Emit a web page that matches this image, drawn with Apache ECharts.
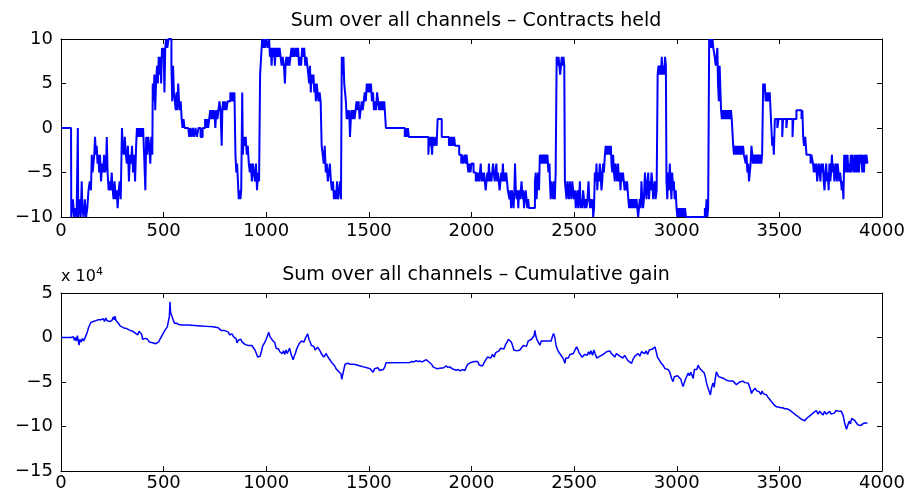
<!DOCTYPE html>
<html lang="en">
<head>
    <meta charset="utf-8">
    <title>Sum over all channels</title>
    <script src="https://cdn.jsdelivr.net/npm/echarts/dist/echarts.min.js"></script>
    <style>
        body { margin: 0; background: #fff; }
    </style>
</head>
<body>
<div id="main" style="width: 914px;height:495px;"></div>

<script>
    // contracts held, [sample, contracts] (value held until next sample)
    let held = [
        [0,0],[49,0],[50,-10],[58,-8],[64,-10],[70,-9],[76,-10],[82,0],[84,-10],[90,-8],[96,-10],[101,-6],[104,-9],[110,-10],[116,-8],[122,-10],[128,-9],[134,-7],[140,-6],[146,-7],
        [150,-3],[154,-5],[158,-4],[162,-3],[166,-1],[170,-3],[174,-2],[178,-4],[182,-3],[186,-5],[190,-3],[195,-6],[200,-4],[205,-5],[210,-3],[215,-5],[220,-4],[223,-1],[227,-5],
        [232,-7],[237,-6],[242,-7],[247,-5],[252,-7],[256,-8],[261,-6],[266,-8],[271,-7],[276,-9],[281,-7],[286,-6],[291,-8],[297,0],[301,-2],[306,-3],[311,-1],[316,-3],[321,-4],
        [326,-2],[331,-6],[336,-3],[341,-4],[346,-2],[351,-5],[356,-3],[361,-6],[366,-2],[370,0],[375,-1],[380,0],[385,-1],[390,0],[395,-1],[400,0],[405,-3],[411,-7],[415,-1],
        [420,-3],[425,-1],[430,-2],[435,-4],[440,-1],[445,-3],
        [447,5],[451,3],[455,6],[459,2],[463,5],[468,7],[472,5],[476,8],[480,6],[484,8],[488,5],[492,9],[496,8],[500,9],[504,4],[508,9],[512,10],[518,9],[524,10],[530,10],
        [538,7],[542,3],[546,7],[550,4],[555,3],[559,2],[563,4],[567,2],[571,5],[575,3],[579,2],[583,3],[588,1],[592,0],[597,1],[602,0],[620,0],[625,-1],[630,0],[636,-1],
        [642,0],[648,-1],[655,0],[662,-1],[670,0],[680,-1],[690,0],[702,1],[707,0],[712,1],[717,0],[722,1],[727,2],[732,1],[737,2],[742,1],[747,2],[752,0],[757,2],[762,1],
        [767,2],[772,3],[777,2],[783,-2],[786,2],[790,3],[795,2],[800,3],[806,2],[812,3],[825,4],[830,3],[835,4],[840,3],[845,4],[850,-3],[854,-5],[858,-4],[862,-6],[866,-8],
        [870,-7],[874,-8],[878,-7],[883,4],[886,-3],[890,-1],[895,-2],[900,-1],[905,-3],[910,-2],[915,-4],[920,-5],[925,-4],[930,-6],[935,-4],[940,-5],[945,-6],[950,-4],
        [955,-7],[960,-5],[965,-6],[970,6],[975,8],[980,10],
        [985,9],[990,10],[995,9],[1000,10],[1008,9],[1014,10],[1018,8],[1022,9],[1026,7],[1030,9],[1034,8],[1038,9],[1042,7],[1046,9],[1050,8],[1055,9],[1060,8],[1065,9],
        [1070,8],[1075,7],[1080,8],[1086,7],[1091,5],[1094,7],[1098,8],[1103,7],[1108,8],[1113,7],[1118,8],[1123,9],[1128,8],[1133,9],[1138,8],[1145,9],[1150,8],[1155,9],
        [1160,7],[1165,8],[1170,7],[1175,9],[1180,8],[1185,9],[1190,7],[1196,8],[1200,7],[1205,6],[1209,5],[1213,7],[1217,4],[1221,6],[1225,5],[1230,6],[1234,4],[1238,5],
        [1242,3],[1246,5],[1250,4],[1255,3],[1260,4],[1265,3],[1270,-2],[1275,-3],[1280,-4],[1285,-2],[1290,-5],[1295,-4],[1300,-6],[1305,-5],[1310,-4],[1315,-6],[1320,-7],
        [1325,-6],[1330,-8],[1335,-7],[1340,-8],[1345,-6],[1350,-8],[1355,-7],[1360,-6],[1364,-8],[1368,8],[1372,6],[1376,8],[1380,5],[1384,4],[1388,3],[1392,1],[1396,2],
        [1400,1],[1404,2],[1408,-1],[1412,1],[1416,2],[1420,1],[1425,2],[1430,1],[1435,2],[1440,3],[1445,2],[1450,3],[1455,1],[1460,2],[1465,3],[1470,2],[1475,3],[1480,4],
        [1485,3],[1490,5],[1495,4],[1500,5],[1505,4],[1510,5],[1515,3],[1520,4],[1525,2],[1530,3],[1535,2],[1540,4],[1545,3],[1550,2],[1555,3],[1560,2],[1565,3],[1570,2],
        [1575,3],[1583,0],[1675,-1],[1680,0],[1685,-1],[1690,0],[1695,-1],[1790,-3],[1794,-1],[1798,-2],[1802,-1],[1808,-3],[1812,-1],[1818,-2],[1824,-1],[1830,-2],
        [1835,1],[1855,-1],[1890,-2],[1895,-1],[1900,-2],[1905,-1],[1910,-2],[1915,-1],[1920,-2],[1940,-3],[1950,-4],[1955,-3],[1960,-4],
        [1968,-3],[1972,-4],[1976,-3],[1980,-4],[1985,-5],[1990,-4],[1995,-5],[2000,-4],[2010,-5],[2017,-5],[2021,-6],[2025,-5],[2029,-6],[2033,-5],[2037,-6],[2041,-5],
        [2045,-4],[2049,-6],[2053,-5],[2057,-6],[2061,-5],[2065,-6],[2069,-7],[2073,-6],[2077,-5],[2081,-6],[2085,-4],[2089,-6],[2093,-5],[2097,-6],[2101,-5],[2105,-4],
        [2109,-5],[2113,-6],[2117,-5],[2121,-4],[2125,-6],[2129,-5],[2133,-6],[2137,-7],[2141,-6],[2145,-5],[2149,-6],[2153,-4],[2157,-6],[2161,-5],[2165,-6],[2169,-5],
        [2173,-6],[2177,-7],[2185,-8],[2189,-7],[2193,-9],[2197,-7],[2201,-8],[2205,-9],[2209,-7],[2212,-4],[2216,-7],[2220,-8],[2224,-7],[2228,-9],[2232,-7],[2236,-8],
        [2240,-7],[2244,-6],[2248,-8],[2252,-7],[2256,-9],[2260,-8],[2264,-7],[2268,-8],[2272,-9],[2276,-8],[2280,-9],[2309,-6],[2313,-5],[2317,-8],[2321,-6],[2325,-5],
        [2329,-7],[2333,-3],[2337,-4],[2341,-3],[2345,-4],[2350,-3],[2355,-4],[2360,-3],[2365,-4],[2370,-3],[2375,-5],[2380,-4],[2382,-6],[2386,-8],[2390,-6],[2394,-7],
        [2398,-8],[2402,-6],[2406,-8],[2410,-5],[2415,8],[2420,7],[2424,8],[2428,7],[2432,6],[2436,7],[2440,8],[2444,7],[2448,8],[2452,7],[2455,-6],[2459,-7],[2463,-8],
        [2467,-6],[2471,-7],[2475,-8],[2479,-6],[2483,-7],[2487,-8],[2491,-6],[2495,-7],[2499,-8],[2504,-7],[2508,-9],[2512,-8],[2516,-7],[2520,-9],[2524,-8],[2528,-6],
        [2532,-9],[2536,-8],[2540,-9],[2544,-7],[2548,-8],[2552,-9],[2556,-8],[2560,-9],[2565,-8],[2570,-6],[2574,-8],[2578,-9],[2582,-8],[2586,-9],[2590,-8],[2593,-10],
        [2597,-9],[2601,-5],[2605,-6],[2609,-4],[2613,-7],[2617,-5],[2621,-6],[2625,-4],[2629,-5],[2633,-7],[2637,-6],[2641,-4],[2645,-5],[2650,-3],[2654,-2],[2658,-3],
        [2662,-2],[2666,-3],[2670,-2],[2675,-3],[2679,-2],[2682,-4],[2686,-5],[2690,-3],[2694,-5],[2698,-6],[2702,-4],[2706,-5],[2710,-6],[2714,-4],[2718,-6],[2722,-5],
        [2726,-7],[2730,-5],[2734,-6],[2738,-5],[2742,-6],[2746,-7],[2750,-6],[2754,-7],[2758,-6],[2764,-8],[2768,-9],[2772,-8],[2776,-9],[2780,-8],[2784,-9],[2788,-8],
        [2792,-9],[2796,-8],[2800,-9],[2804,-8],[2808,-9],[2812,-10],[2816,-9],[2820,-8],[2824,-9],[2828,-6],[2832,-8],[2836,-9],[2840,-8],[2845,-5],[2849,-7],[2853,-8],
        [2857,-6],[2861,-5],[2865,-8],[2869,-6],[2873,-7],[2877,-5],[2881,-6],[2885,-8],[2889,-7],[2893,-6],[2897,-8],[2902,-7],[2907,6],[2911,7],[2915,6],[2919,7],
        [2923,6],[2927,8],[2931,6],[2935,7],[2939,6],[2943,8],[2947,7],[2950,-6],[2954,-8],[2958,-5],[2962,-7],[2966,-4],[2970,-6],[2974,-8],[2978,-5],[2982,-7],
        [2986,-6],[2990,-8],[2995,-7],[2999,-9],[3003,-10],[3007,-9],[3011,-10],[3015,-9],[3019,-10],[3023,-9],[3027,-10],[3031,-9],[3035,-10],[3040,-9],[3045,-10],
        [3137,-9],[3141,-10],[3145,-8],[3149,-10],[3153,-9],[3158,10],[3162,9],[3166,10],[3170,9],[3174,10],[3178,9],[3185,8],[3190,7],[3194,8],[3198,9],[3201,5],
        [3205,3],[3209,7],[3213,4],[3216,2],[3220,1],[3224,2],[3228,1],[3232,2],[3236,1],[3240,2],[3244,1],[3248,2],[3252,1],[3256,2],[3260,1],[3264,2],[3268,1],
        [3275,-2],[3279,-3],[3283,-2],[3287,-3],[3291,-2],[3295,-3],[3299,-2],[3303,-3],[3307,-2],[3311,-3],[3315,-2],[3319,-3],[3323,-2],[3327,-3],[3336,-4],[3340,-3],
        [3344,-5],[3348,-4],[3352,-6],[3356,-5],[3360,-4],[3364,-2],[3368,-3],[3372,-4],[3376,-3],[3380,-4],[3384,-3],[3388,-4],[3392,-3],[3396,-4],[3400,-3],[3404,-4],
        [3408,-3],[3412,-4],[3416,-3],[3421,5],[3425,4],[3429,5],[3433,3],[3437,4],[3441,3],[3445,4],[3449,3],[3453,4],[3457,2],[3461,0],[3465,-2],[3469,-1],[3473,-3],
        [3478,1],[3490,0],[3496,1],[3514,-1],[3518,1],[3534,0],[3538,1],[3564,-1],[3568,1],[3583,2],[3608,1],[3612,2],[3616,-1],[3620,-2],[3626,-1],[3632,-3],[3652,-4],
        [3656,-3],[3664,-4],[3668,-5],[3672,-4],[3676,-5],[3680,-4],[3684,-6],[3688,-5],[3692,-4],[3696,-5],[3700,-6],[3704,-4],[3708,-5],[3712,-4],[3716,-6],[3720,-7],
        [3724,-5],[3728,-4],[3732,-6],[3736,-5],[3740,-7],[3744,-4],[3748,-6],[3752,-5],[3756,-3],[3760,-5],[3764,-4],[3768,-6],[3772,-5],[3776,-4],[3780,-6],[3784,-4],
        [3788,-5],[3792,-6],[3796,-5],[3800,-6],[3804,-7],[3808,-6],[3812,-8],[3816,-3],[3820,-5],[3824,-3],[3828,-5],[3832,-3],[3836,-5],[3840,-4],[3844,-5],[3848,-3],
        [3852,-5],[3856,-3],[3860,-4],[3864,-5],[3868,-3],[3872,-5],[3876,-3],[3880,-5],[3884,-3],[3888,-5],[3892,-3],[3896,-4],[3900,-3],[3904,-5],[3908,-3],[3912,-5],
        [3916,-3],[3920,-4],[3924,-3],[3929,-4]
    ];

    // cumulative gain, [sample, gain in units of 1e4]
    let gain = [
        [0,0],[50,0],[55,-0.2],[60,0.1],[65,-0.3],[70,0],[75,-0.4],[80,0.2],[88,-0.86],[92,-0.2],[98,-0.5],[104,-0.1],[110,-0.4],[116,-0.1],[122,-0.3],[128,0.6],[134,1.1],
        [140,1.4],[146,1.7],[152,1.5],[158,1.8],[164,1.7],[170,1.9],[176,1.8],[182,2.0],[188,1.8],[194,2.0],[200,1.9],[206,2.1],[212,1.8],[218,2.2],[224,1.9],[230,2.1],
        [236,1.8],[242,2.0],[248,1.9],[254,2.3],[260,2.0],[263,2.4],[268,1.9],[274,1.7],[280,1.6],[288,1.3],[296,1.4],[304,1.1],[312,1.2],[320,1.0],[328,1.1],[336,0.8],
        [344,1.0],[350,0.7],[356,0.9],[362,0.5],[368,0.6],[374,0.3],[380,0.7],[386,0.9],[392,0.4],[398,-0.2],[404,-0.4],[410,-0.1],[416,-0.3],[422,-0.2],[430,-0.5],
        [438,-0.4],[446,-0.6],[454,-0.5],[462,-0.7],[471,-0.86],[476,-0.5],[482,-0.2],[488,-0.4],[494,0.3],[500,0.1],[506,0.8],[512,0.6],[518,1.2],[523,1.0],[528,2.4],
        [531,4.0],[534,2.8],[538,2.6],[543,2.2],[548,2.0],[553,1.6],[558,1.4],[563,1.6],[568,1.5],[574,1.45],[590,1.4],[620,1.4],[650,1.35],[680,1.3],[710,1.25],[740,1.2],
        [766,1.1],[772,0.9],[780,0.8],[788,0.7],[796,0.8],[804,0.6],[815,0.6],[822,0.3],[828,0.2],[834,0.4],[840,0.1],[846,-0.1],[852,-0.1],[858,-0.6],[864,-0.3],
        [870,-0.5],[876,-0.2],[882,-0.5],[890,-0.6],[898,-0.8],[906,-0.7],[914,-0.9],[922,-0.8],[930,-0.9],[938,-1.0],[945,-1.4],[952,-1.8],[958,-2.2],[964,-2.4],
        [970,-2.1],[976,-1.6],[982,-1.0],[988,-0.8],[994,-0.5],[1000,-0.2],[1006,0.2],[1012,0.6],[1018,0.1],[1024,-0.1],[1030,-0.3],[1036,-0.1],[1042,-0.6],[1048,-1.2],
        [1054,-1.4],[1060,-1.3],[1066,-1.6],[1072,-1.4],[1078,-1.8],[1084,-1.5],[1090,-1.9],[1096,-1.4],[1102,-1.8],[1108,-1.6],[1114,-1.2],[1120,-1.8],[1126,-2.2],
        [1131,-2.5],[1136,-2.1],[1142,-1.8],[1148,-1.3],[1154,-1.0],[1160,-0.7],[1166,-0.8],[1172,-0.4],[1178,-0.2],[1184,-0.5],[1190,-0.1],[1196,0.1],[1202,0.4],
        [1208,-0.2],[1214,-0.5],[1220,-0.9],[1226,-1.1],[1232,-1.0],[1238,-1.4],[1244,-1.2],[1250,-1.1],[1256,-1.2],[1262,-1.5],[1268,-1.8],[1274,-2.0],[1280,-2.2],
        [1286,-2.0],[1292,-1.8],[1298,-2.1],[1304,-2.3],[1310,-2.5],[1316,-2.7],[1322,-2.9],[1328,-3.0],[1334,-3.2],[1340,-3.5],[1346,-3.4],[1352,-3.8],[1358,-3.6],
        [1364,-4.1],[1368,-4.7],[1372,-4.5],[1376,-3.8],[1380,-3.4],[1384,-3.0],[1390,-3.2],[1396,-2.9],[1402,-3.1],[1410,-3.0],[1418,-3.2],[1426,-3.0],[1434,-2.9],
        [1442,-3.1],[1450,-3.0],[1458,-3.2],[1466,-3.1],[1474,-3.3],[1482,-3.2],[1490,-3.4],[1498,-3.2],[1506,-3.5],[1514,-3.6],[1521,-3.9],[1528,-3.5],[1536,-3.6],
        [1544,-3.4],[1552,-3.7],[1560,-3.8],[1570,-3.6],[1578,-3.3],[1583,-2.85],[1700,-2.8],[1710,-2.7],[1720,-2.75],[1730,-2.6],[1740,-2.7],[1750,-2.65],[1760,-2.75],
        [1770,-2.6],[1780,-2.5],[1790,-2.7],[1797,-2.8],[1805,-3.0],[1813,-3.3],[1822,-3.4],[1830,-3.5],[1838,-3.4],[1846,-3.45],[1855,-3.3],[1865,-3.4],[1875,-3.2],
        [1885,-3.35],[1895,-3.3],[1905,-3.5],[1915,-3.6],[1925,-3.7],[1935,-3.6],[1945,-3.75],[1955,-3.6],[1962,-3.8],[1968,-3.7],[1975,-3.3],[1982,-3.0],[1990,-3.1],
        [1998,-2.8],[2006,-3.0],[2014,-2.7],[2022,-2.9],[2030,-2.7],[2038,-3.1],[2046,-2.9],[2054,-3.2],[2062,-2.8],[2070,-2.6],[2078,-2.2],[2086,-2.0],[2094,-2.3],
        [2102,-1.9],[2110,-2.2],[2118,-1.7],[2126,-1.9],[2134,-1.5],[2142,-1.2],[2150,-1.0],[2158,-1.3],[2166,-0.8],[2174,-0.5],[2180,-0.2],[2187,-0.1],[2194,-0.5],
        [2200,-0.9],[2206,-1.4],[2212,-1.6],[2220,-1.5],[2228,-1.6],[2236,-1.4],[2244,-1.5],[2252,-0.9],[2260,-0.7],[2268,-1.0],[2276,-0.4],[2284,-0.6],[2292,-0.2],
        [2300,-0.4],[2305,0.2],[2309,0.8],[2314,0.1],[2320,-0.3],[2326,-0.5],[2333,-0.86],[2340,-0.4],[2348,-0.2],[2356,-0.4],[2364,-0.2],[2372,-0.4],[2380,-0.3],
        [2388,-0.4],[2394,0.1],[2400,0.45],[2406,0.0],[2412,-0.9],[2418,-1.3],[2424,-1.6],[2430,-1.5],[2436,-2.0],[2442,-1.8],[2448,-2.4],[2455,-2.9],[2460,-2.3],
        [2466,-2.1],[2472,-2.3],[2480,-1.9],[2488,-2.1],[2496,-1.8],[2504,-1.6],[2512,-1.05],[2518,-1.3],[2524,-1.7],[2530,-1.9],[2538,-2.2],[2545,-2.35],[2552,-1.9],
        [2558,-1.7],[2564,-2.0],[2570,-1.6],[2576,-1.9],[2582,-1.5],[2590,-2.0],[2596,-1.4],[2602,-1.8],[2610,-2.3],[2618,-2.5],[2626,-2.1],[2634,-2.3],[2642,-1.9],
        [2650,-1.7],[2658,-1.6],[2666,-1.7],[2674,-1.5],[2682,-1.8],[2690,-1.9],[2698,-2.2],[2706,-1.8],[2715,-1.8],[2722,-2.1],[2730,-1.9],[2738,-2.3],[2746,-2.0],
        [2754,-2.2],[2762,-2.6],[2770,-2.7],[2780,-2.9],[2788,-2.4],[2796,-2.1],[2804,-2.3],[2812,-1.8],[2820,-2.1],[2828,-1.6],[2837,-1.4],[2844,-1.8],[2851,-1.5],
        [2858,-1.9],[2866,-1.4],[2874,-1.6],[2882,-1.3],[2888,-1.5],[2894,-1.05],[2900,-1.6],[2906,-2.2],[2914,-2.4],[2922,-2.8],[2930,-3.0],[2936,-3.2],[2942,-3.5],
        [2950,-3.7],[2958,-3.6],[2966,-3.9],[2975,-4.6],[2982,-4.96],[2988,-4.4],[2996,-4.6],[3004,-4.3],[3012,-4.5],[3020,-4.7],[3026,-5.2],[3031,-5.5],[3038,-5.0],
        [3044,-4.6],[3050,-4.3],[3056,-4.0],[3062,-4.3],[3068,-3.9],[3074,-4.2],[3080,-4.6],[3086,-3.6],[3092,-3.4],[3098,-3.6],[3104,-3.1],[3110,-3.4],[3116,-3.3],
        [3122,-3.7],[3128,-3.65],[3134,-4.0],[3140,-4.5],[3145,-5.1],[3150,-5.5],[3156,-5.9],[3164,-6.45],[3170,-5.6],[3177,-5.1],[3182,-5.6],[3188,-4.6],[3193,-3.85],
        [3198,-4.0],[3204,-4.4],[3210,-4.2],[3216,-4.5],[3222,-4.3],[3228,-4.6],[3236,-4.5],[3242,-4.8],[3250,-4.7],[3258,-4.9],[3266,-5.0],[3274,-4.9],[3282,-5.1],
        [3291,-5.3],[3298,-5.1],[3306,-5.0],[3314,-5.2],[3322,-4.9],[3332,-5.07],[3340,-5.0],[3348,-5.1],[3356,-5.2],[3360,-5.9],[3364,-6.3],[3370,-6.0],[3376,-6.1],
        [3382,-5.7],[3390,-6.0],[3396,-5.8],[3402,-6.1],[3410,-6.4],[3416,-6.0],[3421,-6.3],[3428,-6.2],[3437,-6.45],[3444,-6.7],[3452,-6.9],[3461,-7.2],[3468,-7.4],
        [3476,-7.6],[3486,-7.8],[3496,-7.8],[3506,-7.9],[3516,-7.9],[3526,-8.0],[3536,-8.0],[3546,-8.1],[3551,-8.15],[3558,-8.3],[3566,-8.5],[3574,-8.6],[3583,-8.7],
        [3592,-8.9],[3600,-9.0],[3608,-9.2],[3616,-9.3],[3624,-9.35],[3632,-9.1],[3640,-9.0],[3648,-8.8],[3656,-8.7],[3664,-8.5],[3672,-8.4],[3680,-8.2],[3688,-8.6],
        [3696,-8.3],[3704,-8.5],[3713,-8.7],[3720,-8.3],[3728,-8.6],[3736,-8.4],[3745,-8.3],[3752,-8.6],[3760,-8.4],[3768,-8.5],[3776,-8.2],[3784,-8.4],[3792,-8.3],
        [3802,-8.3],[3810,-8.7],[3818,-9.6],[3827,-10.3],[3834,-9.8],[3840,-9.4],[3846,-9.7],[3852,-9.1],[3859,-9.0],[3866,-9.3],[3875,-9.45],[3882,-9.8],[3890,-9.6],
        [3896,-9.9],[3900,-10.0],[3906,-9.7],[3912,-9.9],[3918,-9.6],[3924,-9.7],[3929,-9.6]
    ];

    let titles = ['Sum over all channels \u2013 Contracts held', 'Sum over all channels \u2013 Cumulative gain'];
    let font = 'DejaVu Sans';

    let myChart = echarts.init(document.getElementById('main'));

    // plain numbers, long minus sign, no thousands separator
    function tickText(v) {
        return String(v).replace('-', '\u2212');
    }

    // one boxed axis pair (bottom/left with labels, top/right with ticks only)
    function xAxes(grid) {
        let base = {
            gridIndex: grid, type: 'value', min: 0, max: 4000, interval: 500,
            splitLine: {show: false},
            axisLine: {onZero: false, lineStyle: {color: '#000', width: 1}},
            axisTick: {inside: true, length: 5, lineStyle: {color: '#000'}}
        };
        return [
            Object.assign({}, base, {position: 'bottom',
                axisLabel: {color: '#000', fontFamily: font, fontSize: 18, margin: grid === 0 ? 5 : 3, formatter: tickText}}),
            Object.assign({}, base, {position: 'top', axisLabel: {show: false}})
        ];
    }

    function yAxes(grid, min, max, name) {
        let base = {
            gridIndex: grid, type: 'value', min: min, max: max, interval: 5,
            splitLine: {show: false},
            axisLine: {onZero: false, lineStyle: {color: '#000', width: 1}},
            axisTick: {inside: true, length: 5, lineStyle: {color: '#000'}}
        };
        let left = Object.assign({}, base, {position: 'left',
            axisLabel: {color: '#000', fontFamily: font, fontSize: 18, margin: 8, formatter: tickText}});
        if (name) {
            left.name = name;
            left.nameLocation = 'end';
            left.nameGap = 6;
            left.nameTextStyle = {
                color: '#000', fontFamily: font, fontSize: 16, align: 'left',
                rich: {sup: {fontFamily: font, fontSize: 11, padding: [0, 0, 9, 0], color: '#000'}}
            };
        }
        return [left, Object.assign({}, base, {position: 'right', axisLabel: {show: false}})];
    }

    let option = {
        animation: false,
        backgroundColor: '#fff',
        title: [
            {text: titles[0], left: 471, top: 7, textAlign: 'center',
                textStyle: {fontFamily: font, fontSize: 19, fontWeight: 'normal', color: '#000'}},
            {text: titles[1], left: 471, top: 261, textAlign: 'center',
                textStyle: {fontFamily: font, fontSize: 19, fontWeight: 'normal', color: '#000'}}
        ],
        grid: [
            {left: 61, right: 32, top: 39, height: 178},
            {left: 61, right: 32, top: 293, height: 178}
        ],
        xAxis: xAxes(0).concat(xAxes(1)),
        yAxis: yAxes(0, -10, 10).concat(yAxes(1, -15, 5, 'x 10{sup|4}')),
        series: [
            {
                name: 'Contracts held',
                type: 'line',
                xAxisIndex: 0,
                yAxisIndex: 0,
                step: 'end',
                showSymbol: false,
                lineStyle: {color: '#0000ff', width: 2},
                data: held
            },
            {
                name: 'Cumulative gain',
                type: 'line',
                xAxisIndex: 2,
                yAxisIndex: 2,
                showSymbol: false,
                lineStyle: {color: '#0000ff', width: 1.5},
                data: gain
            }
        ]
    };
    myChart.setOption(option);
</script>
</body>
</html>
